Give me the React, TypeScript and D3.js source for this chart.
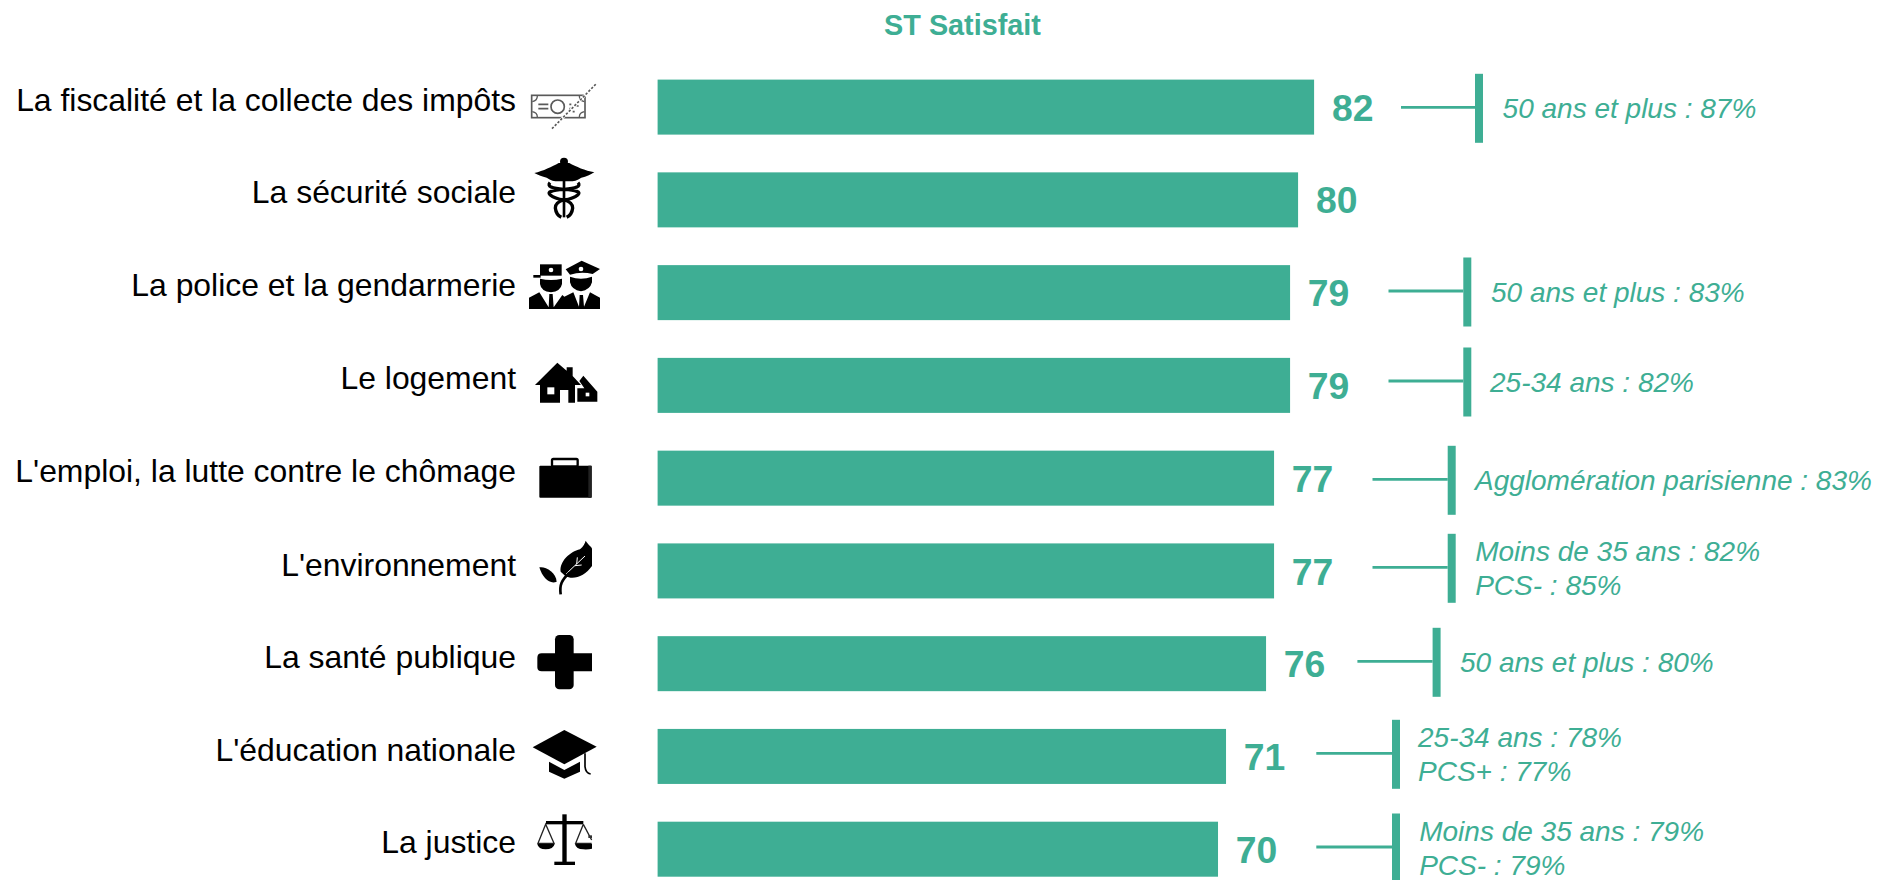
import React from "react";
import * as d3 from "d3";

const title = "ST Satisfait";
const categories = [
  "La fiscalité et la collecte des impôts",
  "La sécurité sociale",
  "La police et la gendarmerie",
  "Le logement",
  "L'emploi, la lutte contre le chômage",
  "L'environnement",
  "La santé publique",
  "L'éducation nationale",
  "La justice",
];
const values = [82, 80, 79, 79, 77, 77, 76, 71, 70];
const notes: string[][] = [
  ["50 ans et plus : 87%"],
  [],
  ["50 ans et plus : 83%"],
  ["25-34 ans : 82%"],
  ["Agglomération parisienne : 83%"],
  ["Moins de 35 ans : 82%", "PCS- : 85%"],
  ["50 ans et plus : 80%"],
  ["25-34 ans : 78%", "PCS+ : 77%"],
  ["Moins de 35 ans : 79%", "PCS- : 79%"],
];

// Layout (pixels), kept apart from the data
const TEAL = "#3EAE94";
const FONT = "'Liberation Sans', Arial, sans-serif";
const lineStart = [1401, 0, 1388.5, 1388.5, 1372.5, 1372.5, 1357.4, 1316.3, 1316.3];
const barX = [1475, 0, 1463.3, 1463.3, 1447.7, 1447.7, 1432.6, 1392, 1392];
const lineY = [107.3, 0, 291, 381, 479.3, 567.3, 661.3, 753.3, 847];
const noteX = [1502.6, 0, 1491, 1490, 1475, 1475.2, 1460, 1418, 1419.2];
const noteBase = [[118], [], [302.2], [392], [490.4], [561, 595], [672.4], [747, 781], [841.4, 874.6]];
const labelBase = [111.4, 202.7, 295.7, 389.4, 482.4, 575.7, 668.4, 760.7, 853.4];

const x = d3.scaleLinear().domain([0, 100]).range([657.6, 1458.2]);
const y = d3.scaleBand<string>().domain(categories).range([79.6, 876.7]).paddingInner(0.407).paddingOuter(0);

const icons: { ox: number; oy: number; el: React.ReactNode }[] = [
  {
    ox: 520, oy: 70,
    el: (
      <g fill="none" stroke="#5a5a5a">
        <rect x={35} y={76} width={160} height={67} strokeWidth={5} />
        <circle cx={113} cy={110} r={20} strokeWidth={5} />
        <path d="M55,103H85M55,116H85" strokeWidth={5} />
        <path d="M37,95Q52,92 52,78M37,125Q52,128 52,141M193,95Q178,92 178,78M193,125Q178,128 178,141" strokeWidth={4} />
        <path d="M148,103h6M148,116h6M170,108h6M158,125h6" strokeWidth={5} />
        <line x1={96} y1={176} x2={228} y2={42} stroke="#fff" strokeWidth={8} />
        <line x1={96} y1={176} x2={228} y2={42} strokeWidth={5} strokeDasharray="7 5" />
      </g>
    ),
  },
  {
    ox: 520, oy: 70,
    el: (
      <g>
        <circle cx={132} cy={275} r={12} fill="#000" />
        <path d="M43,309C70,303 96,290 116,279H148C168,290 195,302 223,307C210,314 200,320 184,323C172,332 160,334 150,334H114C104,334 92,332 80,323C66,320 56,316 43,309Z" fill="#000" />
        <line x1={132} y1={280} x2={132} y2={442} stroke="#000" strokeWidth={8} />
        <path d="M90,338Q76,354 132,358Q188,362 174,374Q160,386 132,390Q106,396 106,414Q108,434 124,442M174,338Q188,354 132,358Q76,362 90,374Q104,386 132,390Q158,396 158,414Q156,434 140,442"
          fill="none" stroke="#000" strokeWidth={10} />
      </g>
    ),
  },
  {
    ox: 520, oy: 250,
    el: (
      <g>
        <rect x={60} y={43} width={65} height={34} fill="#000" />
        <rect x={40} y={75} width={22} height={8} fill="#000" />
        <circle cx={93} cy={60} r={7} fill="#fff" />
        <path d="M60,86Q93,94 126,86V102Q122,124 93,127Q63,124 60,102Z" fill="#000" />
        <path d="M137,58L185,32L225,50L240,57L218,72Q183,64 150,74Z" fill="#000" />
        <circle cx={183} cy={57} r={7} fill="#fff" />
        <path d="M150,80Q183,92 216,80V97Q210,120 183,124Q155,120 150,97Z" fill="#000" />
        <path d="M27,177V143L58,127L86,172L88,132H98L101,172L127,135L133,140L160,127L177,170L179,135H189L192,170L210,127L240,143V177Z" fill="#000" />
      </g>
    ),
  },
  {
    ox: 520, oy: 250,
    el: (
      <g>
        <path d="M45,405L112,338L140,362V352H158V378L183,405H165V458H145V420H120V458H60V405Z" fill="#000" />
        <rect x={82} y={412} width={21} height={21} fill="#fff" />
        <path d="M178,393L190,377L232,425V455H172V415H193Z" fill="#000" />
        <rect x={197} y={428} width={11} height={11} fill="#fff" />
      </g>
    ),
  },
  {
    ox: 520, oy: 450,
    el: (
      <g>
        <rect x={58} y={47} width={157} height={96} rx={3} fill="#000" />
        <rect x={205} y={47} width={10} height={96} fill="#222" />
        <rect x={96} y={27} width={77} height={22} rx={4} fill="#fff" stroke="#000" strokeWidth={7} />
      </g>
    ),
  },
  {
    ox: 520, oy: 450,
    el: (
      <g>
        <path d="M122,365C118,335 150,305 180,298C190,290 195,280 197,272C205,285 215,290 216,296V348C195,378 160,392 136,378Z" fill="#000" />
        <path d="M138,372L195,318M165,347L185,345M170,342L172,322" fill="none" stroke="#fff" strokeWidth={3} />
        <path d="M58,352C75,348 108,365 110,395C90,404 68,385 58,352Z" fill="#000" />
        <path d="M122,433C118,405 125,390 148,368" fill="none" stroke="#000" strokeWidth={8} />
      </g>
    ),
  },
  {
    ox: 520, oy: 630,
    el: (
      <g fill="#000">
        <rect x={105} y={15} width={56} height={163} rx={13} />
        <path d="M65,70H216V124H65Q52,124 52,111V83Q52,70 65,70Z" />
      </g>
    ),
  },
  {
    ox: 520, oy: 720,
    el: (
      <g>
        <path d="M38,82L133,30L230,80L133,133Z" fill="#000" />
        <path d="M87,125L133,150L180,125V155L133,176L87,155Z" fill="#000" />
        <path d="M195,100V140Q197,160 212,162" fill="none" stroke="#000" strokeWidth={5} />
      </g>
    ),
  },
  {
    ox: 520, oy: 720,
    el: (
      <g>
        <rect x={127} y={283} width={13} height={143} fill="#000" />
        <rect x={103} y={425} width={62} height={10} fill="#000" />
        <rect x={78} y={303} width={112} height={10} fill="#000" />
        <path d="M77,313L54,370H102Z" fill="none" stroke="#222" strokeWidth={4} />
        <path d="M52,372H104Q100,388 77,388Q55,388 52,372Z" fill="#000" />
        <path d="M190,313L167,370H215M190,313L215,360" fill="none" stroke="#222" strokeWidth={4} />
        <path d="M165,372H216V386Q205,389 190,388Q168,388 165,372Z" fill="#000" />
        <rect x={205} y={346} width={11} height={8} fill="#333" />
      </g>
    ),
  },
];

export default function App() {
  return (
    <svg width={1878} height={880} viewBox="0 0 1878 880"
      style={{ position: "absolute", left: 0, top: 0, display: "block", background: "#fff" }}
      fontFamily={FONT}>
      <defs>
        <filter id="soft" x="-10%" y="-10%" width="120%" height="120%">
          <feGaussianBlur stdDeviation={1.2} />
        </filter>
      </defs>
      <text x={962.5} y={35} textAnchor="middle" fontSize={28.8} fontWeight={700} fill={TEAL}>{title}</text>
      {categories.map((c, i) => {
        const by = y(c) as number;
        const bh = y.bandwidth();
        return (
          <g key={c}>
            <text x={516} y={labelBase[i]} textAnchor="end" fontSize={31.9} fill="#000">{c}</text>
            <rect x={x(0)} y={by} width={x(values[i]) - x(0)} height={bh} fill={TEAL} />
            <text x={x(values[i]) + 17.8} y={by + bh / 2 + 13.6} fontSize={37.33} fontWeight={700} fill={TEAL}>{values[i]}</text>
            {notes[i].length > 0 && (
              <g>
                <line x1={lineStart[i]} x2={barX[i]} y1={lineY[i]} y2={lineY[i]} stroke={TEAL} strokeWidth={2.8} />
                <rect x={barX[i]} y={lineY[i] - 33.5} width={8} height={69} fill={TEAL} />
                {notes[i].map((n, j) => (
                  <text key={n} x={noteX[i]} y={noteBase[i][j]} fontSize={28} fontStyle="italic" fill={TEAL}>{n}</text>
                ))}
              </g>
            )}
          </g>
        );
      })}
      {icons.map((ic, i) => (
        <g key={i} transform={`translate(${ic.ox},${ic.oy}) scale(${1 / 3})`} filter="url(#soft)">{ic.el}</g>
      ))}
    </svg>
  );
}
